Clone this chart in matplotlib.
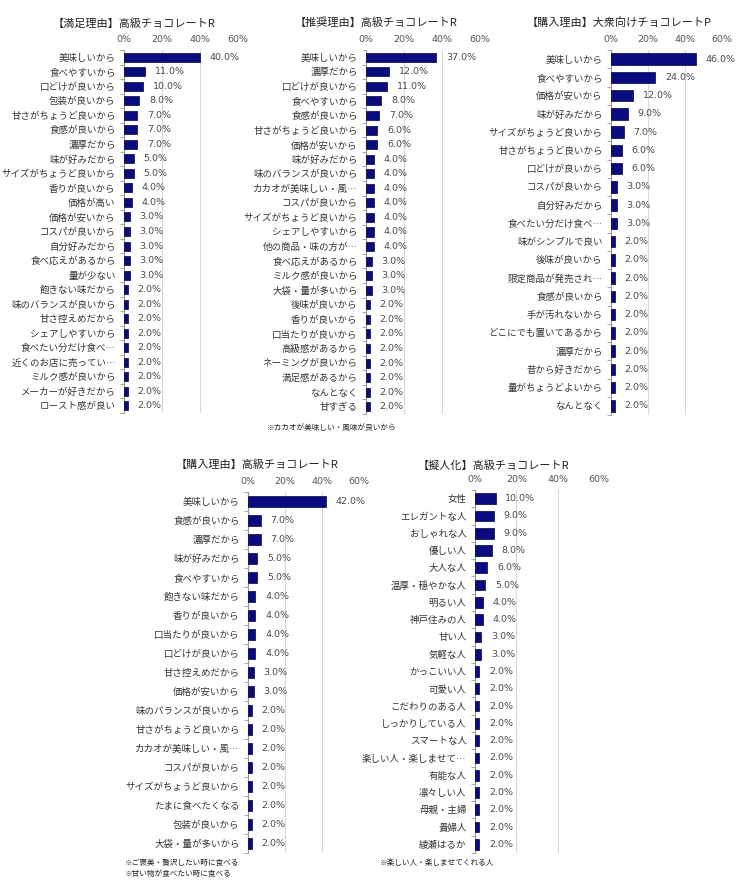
import matplotlib
matplotlib.use("Agg")
import matplotlib.pyplot as plt
import numpy as np

plt.rcParams['font.family'] = ['Noto Sans CJK JP', 'DejaVu Sans']

# 【満足理由】高級チョコレートR
labels1 = ["美味しいから", "食べやすいから", "口どけが良いから", "包装が良いから", "甘さがちょうど良いから",
           "食感が良いから", "濃厚だから", "味が好みだから", "サイズがちょうど良いから", "香りが良いから",
           "価格が高い", "価格が安いから", "コスパが良いから", "自分好みだから", "食べ応えがあるから",
           "量が少ない", "飽きない味だから", "味のバランスが良いから", "甘さ控えめだから", "シェアしやすいから",
           "食べたい分だけ食べ…", "近くのお店に売ってい…", "ミルク感が良いから", "メーカーが好きだから", "ロースト感が良い"]
values1 = [40, 11, 10, 8, 7, 7, 7, 5, 5, 4, 4, 3, 3, 3, 3, 3, 2, 2, 2, 2, 2, 2, 2, 2, 2]

# 【推奨理由】高級チョコレートR
labels2 = ["美味しいから", "濃厚だから", "口どけが良いから", "食べやすいから", "食感が良いから",
           "甘さがちょうど良いから", "価格が安いから", "味が好みだから", "味のバランスが良いから", "カカオが美味しい・風…",
           "コスパが良いから", "サイズがちょうど良いから", "シェアしやすいから", "他の商品・味の方が…", "食べ応えがあるから",
           "ミルク感が良いから", "大袋・量が多いから", "後味が良いから", "香りが良いから", "口当たりが良いから",
           "高級感があるから", "ネーミングが良いから", "満足感があるから", "なんとなく", "甘すぎる"]
values2 = [37, 12, 11, 8, 7, 6, 6, 4, 4, 4, 4, 4, 4, 4, 3, 3, 3, 2, 2, 2, 2, 2, 2, 2, 2]

# 【購入理由】大衆向けチョコレートP
labels3 = ["美味しいから", "食べやすいから", "価格が安いから", "味が好みだから", "サイズがちょうど良いから",
           "甘さがちょうど良いから", "口どけが良いから", "コスパが良いから", "自分好みだから", "食べたい分だけ食べ…",
           "味がシンプルで良い", "後味が良いから", "限定商品が発売され…", "食感が良いから", "手が汚れないから",
           "どこにでも置いてあるから", "濃厚だから", "昔から好きだから", "量がちょうどよいから", "なんとなく"]
values3 = [46, 24, 12, 9, 7, 6, 6, 3, 3, 3, 2, 2, 2, 2, 2, 2, 2, 2, 2, 2]

# 【購入理由】高級チョコレートR
labels4 = ["美味しいから", "食感が良いから", "濃厚だから", "味が好みだから", "食べやすいから",
           "飽きない味だから", "香りが良いから", "口当たりが良いから", "口どけが良いから", "甘さ控えめだから",
           "価格が安いから", "味のバランスが良いから", "甘さがちょうど良いから", "カカオが美味しい・風…", "コスパが良いから",
           "サイズがちょうど良いから", "たまに食べたくなる", "包装が良いから", "大袋・量が多いから"]
values4 = [42, 7, 7, 5, 5, 4, 4, 4, 4, 3, 3, 2, 2, 2, 2, 2, 2, 2, 2]

# 【擬人化】高級チョコレートR
labels5 = ["女性", "エレガントな人", "おしゃれな人", "優しい人", "大人な人", "温厚・穏やかな人", "明るい人",
           "神戸住みの人", "甘い人", "気軽な人", "かっこいい人", "可愛い人", "こだわりのある人",
           "しっかりしている人", "スマートな人", "楽しい人・楽しませて…", "有能な人", "凛々しい人",
           "母親・主婦", "貴婦人", "綾瀬はるか"]
values5 = [10, 9, 9, 8, 6, 5, 4, 4, 3, 3, 2, 2, 2, 2, 2, 2, 2, 2, 2, 2, 2]

ticks = [0, 20, 40, 60]
W, H = 750, 884

fig = plt.figure(figsize=(W / 100, H / 100), dpi=100)


def panel(rect_px, title, title_xy, labels, values, fs=6.8):
    left, top, right, bottom = rect_px
    ax = fig.add_axes([left / W, 1 - bottom / H, (right - left) / W, (bottom - top) / H])
    n = len(values)
    y = np.arange(n)
    ax.barh(y, values, height=0.62, color='#0b0b80', edgecolor='#00003a', linewidth=0.5, zorder=3)
    for yi, v in zip(y, values):
        ax.annotate(f"{v:.1f}%", (v, yi), xytext=(7, 0), textcoords='offset points',
                    va='center', ha='left', fontsize=6.8, color='#4a4a4a',
                    family=['DejaVu Sans'], zorder=4)
    ax.set_xlim(0, 60)
    ax.set_ylim(n - 0.5, -0.5)
    ax.xaxis.tick_top()
    ax.set_xticks(ticks)
    ax.set_xticklabels([f"{t}%" for t in ticks], fontsize=6.8, color='#555555', family=['DejaVu Sans'])
    ax.tick_params(axis='x', length=0, pad=4)
    ax.set_yticks(y)
    ax.set_yticklabels(labels, fontsize=fs, color='#333333')
    ax.tick_params(axis='y', length=0, pad=6)
    ax.set_yticks(np.arange(n + 1) - 0.5, minor=True)
    ax.tick_params(axis='y', which='minor', length=3, color='#999999', width=0.6)
    ax.grid(axis='x', color='#d8d8d8', linewidth=0.8, zorder=0)
    for s in ['top', 'right', 'bottom']:
        ax.spines[s].set_visible(False)
    ax.spines['left'].set_color('#999999')
    ax.spines['left'].set_linewidth(0.8)
    fig.text(title_xy[0] / W, 1 - title_xy[1] / H, title, ha='center', va='center',
             fontsize=8.0, color='#222222')
    return ax


panel((124, 50, 238, 413), "【満足理由】高級チョコレートR", (134, 23), labels1, values1)
panel((366, 50, 480, 414), "【推奨理由】高級チョコレートR", (376, 23), labels2, values2)
panel((611, 50, 722, 415), "【購入理由】大衆向けチョコレートP", (619, 23), labels3, values3)
panel((248, 492, 359, 853), "【購入理由】高級チョコレートR", (257, 465), labels4, values4)
panel((475, 490, 599, 853), "【擬人化】高級チョコレートR", (494, 465), labels5, values5)

note_kw = dict(ha='left', va='center', fontsize=5.5, color='#222222')
fig.text(267 / W, 1 - 428 / H, "※カカオが美味しい・風味が良いから", **note_kw)
fig.text(125 / W, 1 - 863 / H, "※ご褒美・贅沢したい時に食べる", **note_kw)
fig.text(125 / W, 1 - 874 / H, "※甘い物が食べたい時に食べる", **note_kw)
fig.text(380 / W, 1 - 863 / H, "※楽しい人・楽しませてくれる人", **note_kw)

fig.savefig("out.png", dpi=100)
